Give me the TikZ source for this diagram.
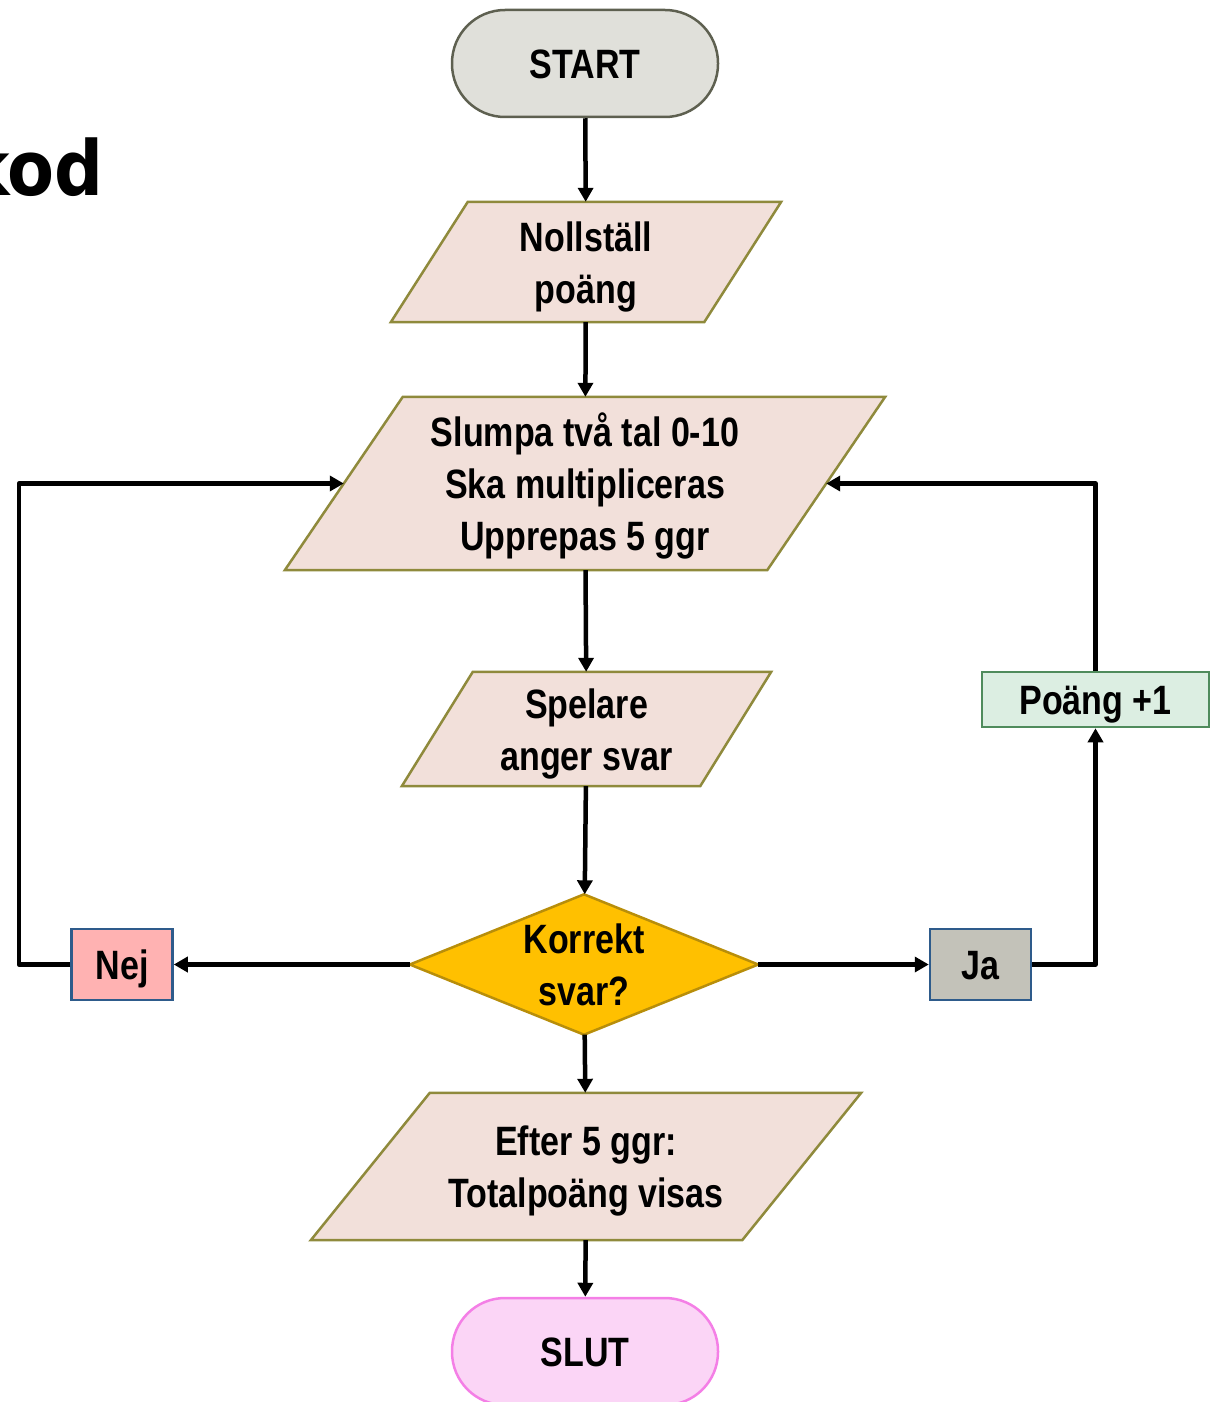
\documentclass[tikz,border=0pt]{standalone}
\usepackage{fontspec}
\newfontfamily\flowfont{Liberation Sans}[FakeStretch=0.83]
\newfontfamily\kodfont{DejaVu Sans}[FakeStretch=0.9]
\usetikzlibrary{arrows.meta,backgrounds,calc}
\definecolor{startfill}{HTML}{E0E0DA}
\definecolor{startdraw}{HTML}{5E6050}
\definecolor{parafill}{HTML}{F2E0DA}
\definecolor{paradraw}{HTML}{8F8A3C}
\definecolor{diafill}{HTML}{FFC000}
\definecolor{diadraw}{HTML}{B88E0A}
\definecolor{nejfill}{HTML}{FFB2B2}
\definecolor{jafill}{HTML}{C3C2B9}
\definecolor{boxdraw}{HTML}{2E5B8B}
\definecolor{poangfill}{HTML}{DCEEE2}
\definecolor{poangdraw}{HTML}{4F8B5C}
\definecolor{slutfill}{HTML}{FBD5F6}
\definecolor{slutdraw}{HTML}{F47FE6}
\newcommand\drawpara[2]{%
  \draw[pshape] ([xshift=-#2/2]#1.south west) -- ([xshift=-#2/2]#1.south east)
    -- ([xshift=#2/2]#1.north east) -- ([xshift=#2/2]#1.north west) -- cycle;}
\begin{document}
\begin{tikzpicture}[x=1pt,y=-1pt,
  every node/.style={font=\flowfont\bfseries\fontsize{41}{52}\selectfont, align=center, inner sep=0pt,
    text height=30pt, text depth=0pt},
  twolines/.style={text height=82pt},
  threelines/.style={text height=134pt},
  arr/.style={line width=4.5pt, line join=round, -{Triangle[length=14pt,width=15pt]}},
  term/.style={line width=2.5pt, rounded corners=53pt, minimum width=266pt, minimum height=107pt},
  ptext/.style={minimum height=#1},
  pshape/.style={fill=parafill, draw=paradraw, line width=2.5pt, line join=miter},
  smallbox/.style={draw=boxdraw, line width=2.5pt, minimum width=101pt, minimum height=71pt}]
\useasboundingbox (0,0) rectangle (1220,1402);

\node[font=\kodfont\bfseries\fontsize{76}{80}\selectfont, anchor=base east, text height=, text depth=] (kod) at (104,195) {kod};

\node[term, draw=startdraw, fill=startfill] (start) at (585,63.5) {START};
\node[term, draw=slutdraw, fill=slutfill] (slut) at (585,1351.5) {SLUT};

\node[ptext=120pt, minimum width=313pt, twolines] (noll) at (586,262) {Nollställ\\poäng};
\node[ptext=173pt, minimum width=482pt, threelines] (slumpa) at (585,483.5) {Slumpa två tal 0-10\\Ska multipliceras\\Upprepas 5 ggr};
\node[ptext=114pt, minimum width=298pt, twolines] (spelare) at (586.5,729) {Spelare\\anger svar};
\node[minimum width=348pt, minimum height=140pt, twolines] (korrekt) at (584,964.5) {Korrekt\\svar?};
\node[ptext=147pt, minimum width=431pt, twolines] (efter) at (586,1166.5) {Efter 5 ggr:\\Totalpoäng visas};

\node[smallbox, fill=nejfill] (nej) at (122,964.5) {Nej};
\node[smallbox, fill=jafill] (ja) at (980.5,964.5) {Ja};
\node[draw=poangdraw, fill=poangfill, line width=2.5pt, minimum width=227pt, minimum height=55pt] (poang) at (1095.5,699.5) {Poäng +1};

\begin{scope}[on background layer]
  \drawpara{noll}{77}
  \drawpara{slumpa}{118}
  \drawpara{spelare}{71}
  \drawpara{efter}{119}
  \draw[fill=diafill, draw=diadraw, line width=2.5pt] (korrekt.north) -- (korrekt.east) -- (korrekt.south) -- (korrekt.west) -- cycle;
\end{scope}

\coordinate (nejcorner) at (19,964.5);

\draw[arr] (start) -- (noll);
\draw[arr] (noll) -- (slumpa);
\draw[arr] (slumpa) -- (spelare);
\draw[arr] (spelare) -- (korrekt);
\draw[arr] (korrekt) -- (efter);
\draw[arr] (efter) -- (slut);
\draw[arr] (korrekt.west) -- (nej.east);
\draw[arr] (korrekt.east) -- (ja.west);
\draw[arr] (nej.west) -- (nejcorner) |- (slumpa.west);
\draw[arr] (ja.east) -| (poang.south);
\draw[arr] (poang.north) |- (slumpa.east);
\end{tikzpicture}
\end{document}
